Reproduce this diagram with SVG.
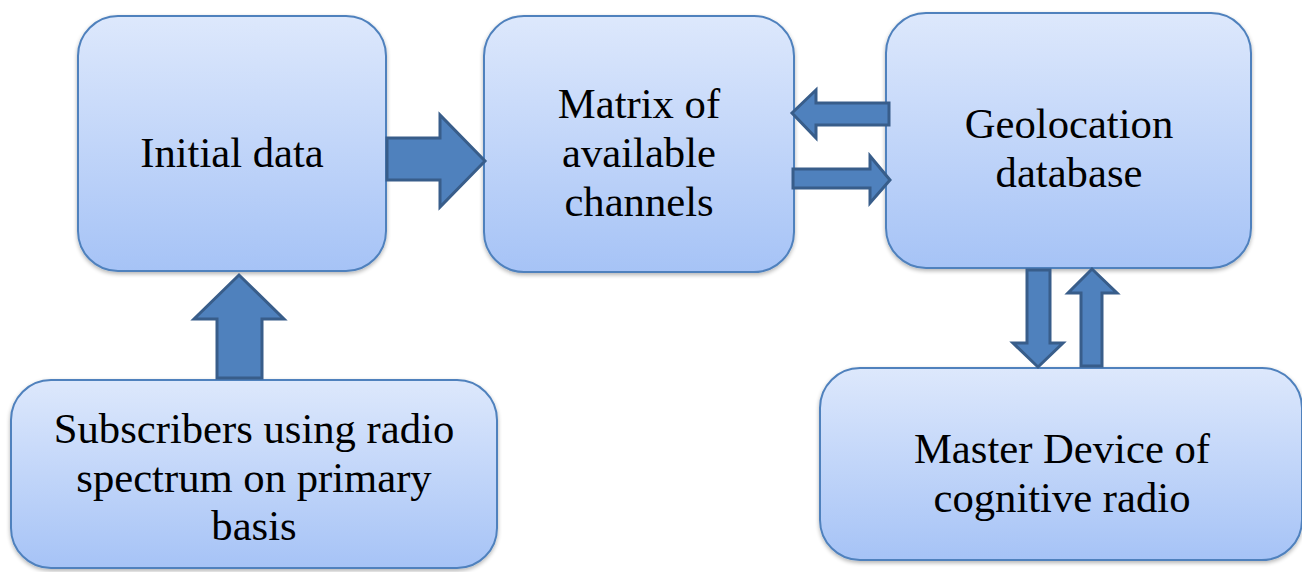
<svg xmlns="http://www.w3.org/2000/svg" width="1302" height="572" viewBox="0 0 1302 572">
<defs>
<linearGradient id="g" x1="0" y1="0" x2="0" y2="1">
<stop offset="0" stop-color="#dde8fc"/>
<stop offset="1" stop-color="#a6c3f6"/>
</linearGradient>
<filter id="sh" x="-10%" y="-10%" width="120%" height="120%">
<feGaussianBlur in="SourceAlpha" stdDeviation="2"/>
<feOffset dx="0" dy="2"/>
<feComponentTransfer><feFuncA type="linear" slope="0.3"/></feComponentTransfer>
<feMerge><feMergeNode/><feMergeNode in="SourceGraphic"/></feMerge>
</filter>
</defs>
<style>
.box{fill:url(#g);stroke:#4f81bd;stroke-width:2;filter:url(#sh)}
.t{font-family:'Liberation Serif','Times New Roman',serif;font-size:42.67px;fill:#000;text-anchor:middle}
.ar{fill:#4f81bd;stroke:#385d8a;stroke-width:3;stroke-linejoin:miter}
</style>
<rect width="1302" height="572" fill="#fff"/>
<g id="initial-data">
<rect class="box" x="78" y="16" width="308" height="255" rx="40"/>
<text class="t" x="232" y="167">Initial data</text>
</g>
<g id="matrix">
<rect class="box" x="484" y="16" width="310" height="256" rx="40"/>
<text class="t" x="639" y="118">Matrix of</text>
<text class="t" x="639" y="167">available</text>
<text class="t" x="639" y="216">channels</text>
</g>
<g id="geolocation">
<rect class="box" x="886" y="13" width="365" height="255" rx="40"/>
<text class="t" x="1069" y="138">Geolocation</text>
<text class="t" x="1069" y="187">database</text>
</g>
<g id="subscribers">
<rect class="box" x="11" y="380" width="486" height="188" rx="40"/>
<text class="t" x="254" y="443">Subscribers using radio</text>
<text class="t" x="254" y="492">spectrum on primary</text>
<text class="t" x="254" y="540">basis</text>
</g>
<g id="master">
<rect class="box" x="820" y="368" width="482" height="192" rx="40"/>
<text class="t" x="1062" y="463">Master Device of</text>
<text class="t" x="1062" y="512">cognitive radio</text>
</g>
<g id="connectors">
<polygon class="ar" points="387,138 440,138 440,115 485,161 440,207 440,180 387,180"/>
<polygon class="ar" points="889,103 816,103 816,90 792,113 816,138 816,125 889,125"/>
<polygon class="ar" points="793,169 870,169 870,156 890,180 870,203 870,188 793,188"/>
<polygon class="ar" points="1027,270 1050,270 1050,343 1063,343 1038,367 1013,343 1027,343"/>
<polygon class="ar" points="1081,366 1102,366 1102,293 1117,293 1092,269 1068,293 1081,293"/>
<polygon class="ar" points="217,378 262,378 262,319 284,319 239,275 194,319 217,319"/>
</g>
</svg>
